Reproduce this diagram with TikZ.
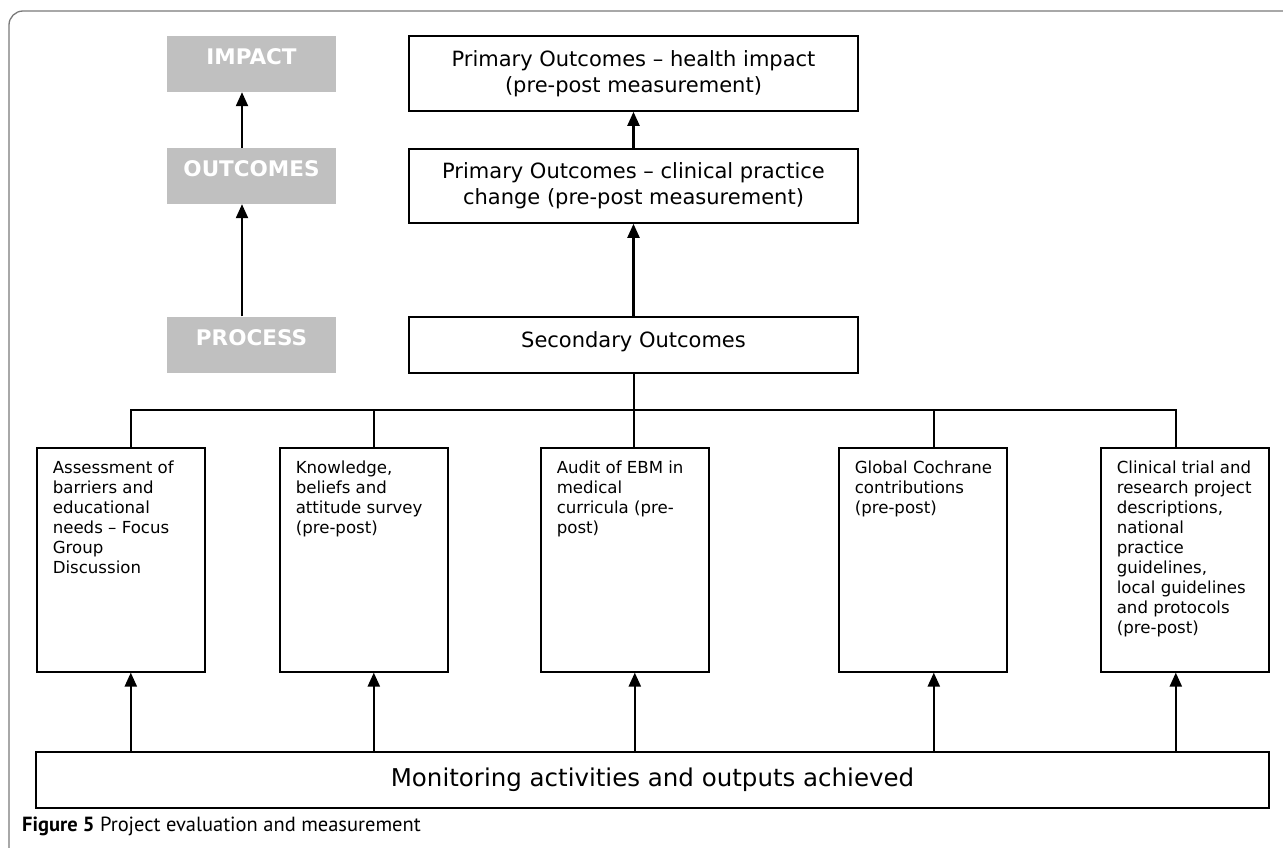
\documentclass[tikz,border=0pt]{standalone}
\usepackage{fontspec}
\setmainfont{DejaVu Sans}
\newfontfamily\capfont{PT Sans}
\usetikzlibrary{arrows.meta}

\definecolor{levelgray}{HTML}{C0C0C0}
\definecolor{framegray}{HTML}{7A7A7A}

\tikzset{
  level/.style={fill=levelgray, text=white, font=\bfseries\fontsize{21.5}{24}\selectfont,
    minimum width=169pt, inner sep=0pt, text height=29pt, text depth=27pt},
  outbox/.style={draw, line width=1.6pt, minimum width=449pt, align=center,
    font=\fontsize{21}{26}\selectfont},
  leafbox/.style={draw, line width=1.6pt, anchor=north west, inner xsep=16pt, inner ysep=11.5pt,
    font=\fontsize{16.6}{20}\selectfont},
  arr/.style={line width=2.2pt, -{Triangle[length=14pt,width=12pt]}},
  bus/.style={line width=1.4pt},
}

\newcommand{\leaftext}[1]{\parbox[t][201pt][t]{136pt}{\begin{tabular}[t]{@{}l@{}}#1\end{tabular}}}

\begin{document}
\begin{tikzpicture}[x=1pt,y=-1pt]
  \useasboundingbox (0,0) rectangle (1283,848);
  \clip (0,0) rectangle (1283,848);
  \draw[framegray, line width=1.3pt, rounded corners=14pt] (9,870) -- (9,11) -- (1300,11);

  % levels
  \node[level] (impact) at (251.5,64) {IMPACT};
  \node[level] (outcomes) at (251.5,176) {OUTCOMES};
  \node[level] (process) at (251.5,344.5) {PROCESS};

  % outcome boxes
  \node[outbox, minimum height=75pt] (health) at (633.5,73.5) {Primary Outcomes -- health impact\\(pre-post measurement)};
  \node[outbox, minimum height=74pt] (clinical) at (633.5,186) {Primary Outcomes -- clinical practice\\change (pre-post measurement)};
  \node[outbox, inner ysep=0pt, text height=30pt, text depth=26pt] (sec) at (633.5,345) {Secondary Outcomes};

  % measures
  \node[leafbox] (b1) at (36,447) {\leaftext{Assessment of\\barriers and\\educational\\needs -- Focus\\Group\\Discussion}};
  \node[leafbox] (b2) at (279,447) {\leaftext{Knowledge,\\beliefs and\\attitude survey\\(pre-post)}};
  \node[leafbox] (b3) at (540,447) {\leaftext{Audit of EBM in\\medical\\curricula (pre-\\post)}};
  \node[leafbox] (b4) at (838,447) {\leaftext{Global Cochrane\\contributions\\(pre-post)}};
  \node[leafbox] (b5) at (1100,447) {\leaftext{Clinical trial and\\research project\\descriptions,\\national\\practice\\guidelines,\\local guidelines\\and protocols\\(pre-post)}};

  \node[draw, line width=1.6pt, minimum width=1233pt, minimum height=56pt,
    font=\fontsize{24.5}{28}\selectfont] (mon) at (652.5,780) {Monitoring activities and outputs achieved};

  \node[anchor=base west, inner sep=0pt, font=\capfont\fontsize{20.5}{24}\selectfont] (cap) at (22,831)
    {\textbf{Figure 5} Project evaluation and measurement};

  % arrows
  \draw[arr] ([xshift=-9.5pt]process.north) -- ([xshift=-9.5pt]outcomes.south);
  \draw[arr] ([xshift=-9.5pt]outcomes.north) -- ([xshift=-9.5pt]impact.south);
  \draw[arr] (sec.north) -- (clinical.south);
  \draw[arr] (clinical.north) -- (health.south);

  \coordinate (busy) at (634,410);
  \draw[bus] ([xshift=10pt]b1.north) |- (busy) -| ([xshift=-9pt]b5.north);
  \draw[bus] ([xshift=10pt]b2.north) -- ([xshift=10pt]b2.north |- busy);
  \draw[bus] ([xshift=11pt]b4.north) -- ([xshift=11pt]b4.north |- busy);
  \draw[bus] ([xshift=0.5pt]sec.south) -- ([xshift=0.5pt]sec.south |- b3.north);

  \draw[arr] ([xshift=10pt]b1.south |- mon.north) -- ([xshift=10pt]b1.south);
  \draw[arr] ([xshift=10pt]b2.south |- mon.north) -- ([xshift=10pt]b2.south);
  \draw[arr] ([xshift=10pt]b3.south |- mon.north) -- ([xshift=10pt]b3.south);
  \draw[arr] ([xshift=11pt]b4.south |- mon.north) -- ([xshift=11pt]b4.south);
  \draw[arr] ([xshift=-9pt]b5.south |- mon.north) -- ([xshift=-9pt]b5.south);
\end{tikzpicture}
\end{document}
